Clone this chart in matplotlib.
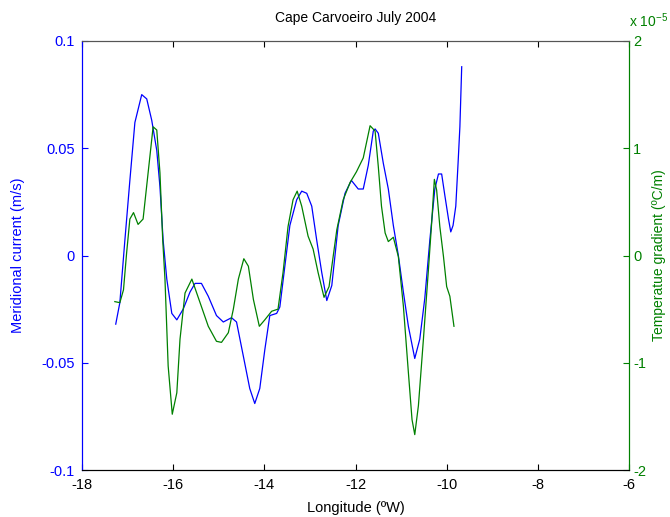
import matplotlib
matplotlib.use("Agg")
import matplotlib.pyplot as plt

plt.rcParams['font.family'] = ['Liberation Sans', 'DejaVu Sans']
plt.rcParams['axes.unicode_minus'] = False

# meridional current (m/s) vs longitude
lon_v = [-17.26, -17.17, -17.06, -16.95, -16.84, -16.69, -16.58, -16.47, -16.36, -16.29,
         -16.22, -16.14, -16.03, -15.92, -15.78, -15.63, -15.52, -15.38, -15.23, -15.05,
         -14.90, -14.72, -14.61, -14.46, -14.32, -14.21, -14.10, -13.99, -13.88, -13.73,
         -13.66, -13.55, -13.44, -13.29, -13.18, -13.07, -12.96, -12.85, -12.74, -12.63,
         -12.52, -12.38, -12.23, -12.09, -11.94, -11.83, -11.72, -11.61, -11.57, -11.50,
         -11.39, -11.28, -11.17, -11.06, -10.95, -10.84, -10.70, -10.59, -10.48, -10.37,
         -10.26, -10.18, -10.11, -10.04, -9.96, -9.91, -9.86, -9.80, -9.75, -9.71, -9.67]
merid = [-0.032, -0.022, 0.007, 0.035, 0.062, 0.075, 0.073, 0.063, 0.049, 0.032,
         0.007, -0.011, -0.027, -0.030, -0.025, -0.017, -0.013, -0.013, -0.019, -0.028,
         -0.031, -0.029, -0.031, -0.047, -0.062, -0.069, -0.062, -0.044, -0.028, -0.027,
         -0.024, -0.005, 0.014, 0.026, 0.030, 0.029, 0.023, 0.007, -0.008, -0.021,
         -0.014, 0.014, 0.029, 0.035, 0.031, 0.031, 0.042, 0.058, 0.059, 0.057,
         0.043, 0.031, 0.014, 0.000, -0.017, -0.033, -0.048, -0.039, -0.020, 0.007,
         0.031, 0.038, 0.038, 0.028, 0.017, 0.011, 0.014, 0.023, 0.043, 0.060, 0.088]

# temperature gradient (x 1e-5 ºC/m) vs longitude
lon_t = [-17.28, -17.17, -17.09, -17.02, -16.95, -16.87, -16.77, -16.66, -16.55, -16.44,
         -16.36, -16.29, -16.23, -16.18, -16.11, -16.02, -15.92, -15.85, -15.74, -15.59,
         -15.41, -15.23, -15.05, -14.94, -14.79, -14.68, -14.57, -14.45, -14.35, -14.24,
         -14.11, -13.99, -13.84, -13.70, -13.59, -13.48, -13.37, -13.28, -13.18, -13.04,
         -12.93, -12.82, -12.69, -12.58, -12.41, -12.27, -12.12, -11.98, -11.83, -11.68,
         -11.57, -11.50, -11.43, -11.35, -11.28, -11.17, -11.06, -10.95, -10.84, -10.76,
         -10.70, -10.62, -10.51, -10.40, -10.33, -10.27, -10.22, -10.15, -10.07, -10.00,
         -9.93, -9.84]
temp_grad = [-0.43, -0.44, -0.32, 0.03, 0.34, 0.40, 0.29, 0.34, 0.77, 1.20,
             1.17, 0.77, 0.15, -0.22, -1.03, -1.48, -1.28, -0.78, -0.35, -0.22,
             -0.44, -0.66, -0.80, -0.81, -0.72, -0.50, -0.22, -0.03, -0.10, -0.41,
             -0.66, -0.60, -0.52, -0.50, -0.16, 0.27, 0.52, 0.60, 0.46, 0.18,
             0.06, -0.16, -0.39, -0.29, 0.24, 0.52, 0.68, 0.78, 0.91, 1.21,
             1.16, 0.83, 0.46, 0.21, 0.13, 0.17, -0.01, -0.47, -1.09, -1.53,
             -1.67, -1.40, -0.78, -0.13, 0.30, 0.71, 0.61, 0.27, -0.01, -0.29,
             -0.38, -0.66]

blue = (0, 0, 1)
green = (0, 0.5, 0)

fig = plt.figure(figsize=(6.7, 5.17), dpi=100)
ax1 = fig.add_axes([0.1224, 0.0909, 0.8164, 0.8298])
ax2 = ax1.twinx()

ax1.plot(lon_v, merid, color=blue, lw=0.9)
ax2.plot(lon_t, temp_grad, color=green, lw=0.9)

ax1.set_xlim(-18, -6)
ax1.set_ylim(-0.1, 0.1)
ax2.set_ylim(-2, 2)
ax1.set_xticks(range(-18, -5, 2))
ax1.set_yticks([-0.1, -0.05, 0, 0.05, 0.1])
ax1.set_yticklabels(['-0.1', '-0.05', '0', '0.05', '0.1'])
ax2.set_yticks([-2, -1, 0, 1, 2])

ax1.tick_params(axis='both', direction='in', length=4, labelsize=10.5)
ax1.tick_params(axis='x', top=True, colors='black', pad=6)
ax1.tick_params(axis='y', colors=blue, pad=5)
ax2.tick_params(axis='y', direction='in', length=4, labelsize=10.5, colors=green, pad=3)

for ax in (ax1, ax2):
    ax.spines['left'].set_color(blue)
    ax.spines['right'].set_color(green)
    ax.spines['top'].set_color('#555555')
    ax.spines['bottom'].set_color('black')

ax1.set_title('Cape Carvoeiro July 2004', fontsize=10, pad=14)
ax1.set_xlabel('Longitude (ºW)', fontsize=10.5, labelpad=6)
ax1.set_ylabel('Meridional current (m/s)', fontsize=10.5, color=blue, labelpad=12)
ax2.set_ylabel('Temperatue gradient (ºC/m)', fontsize=10, color=green, labelpad=4)
ax2.text(1.0, 1.025, 'x 10$^{\\mathregular{-5}}$', transform=ax2.transAxes, color=green,
         fontsize=10, ha='left', va='bottom')

fig.savefig('out.png', dpi=100)
